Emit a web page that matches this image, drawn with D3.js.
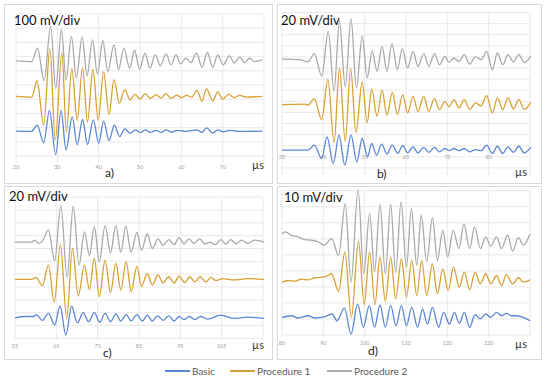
<!DOCTYPE html>
<html>
<head>
<meta charset="utf-8">
<script src="https://cdn.jsdelivr.net/npm/d3@7"></script>
<style>
  body { margin: 0; background: #fff; }
</style>
</head>
<body>
<div id="chart"></div>
<script>
// series names and colours
var seriesNames = ['Basic', 'Procedure 1', 'Procedure 2']
var seriesColors = ['#5a86d6', '#d9a032', '#a9a9a9']

// panel a) 100 mV/div  -  [time us, mV] at each peak / trough
var aBasic = [[20, 0], [23.8, -2], [25.1, 42], [26.7, -80], [28.1, 146], [29.6, -165], [30.9, 146], [32.1, -132], [33.6, 101], [34.8, -96], [36.1, 82], [37.3, -94], [38.7, 80], [40.0, -85], [41.2, 71], [42.5, -66], [43.8, 42], [45.1, -38], [46.3, 16], [47.6, -14], [48.9, 9], [50.1, -9], [51.3, 9], [52.5, -9], [53.9, 5], [55.1, -9], [56.3, 9], [57.5, -7], [58.9, 5], [61.1, -2], [63.8, 9], [65.0, -9], [66.1, 23], [67.6, -14], [68.8, 9], [70.1, -5], [71.6, 5], [74.0, -2], [79.6, 0]]
var aProc1 = [[20, 0], [23.8, -5], [25.1, 108], [26.7, -204], [28.2, 336], [29.5, -310], [31.1, 306], [32.2, -251], [33.5, 197], [34.8, -169], [36.1, 202], [37.3, -181], [38.6, 190], [39.9, -165], [41.2, 174], [42.5, -127], [43.7, 118], [45.0, -47], [46.3, 47], [47.6, -24], [48.8, 14], [50.0, -19], [51.3, 19], [52.5, -14], [53.9, 12], [55.1, -12], [56.3, 19], [57.5, -14], [58.9, 9], [60.0, -9], [61.3, 7], [62.5, -5], [63.8, 42], [65.0, -33], [66.1, 54], [67.6, -33], [68.8, 31], [70.0, -19], [71.4, 14], [72.8, -9], [74.1, 7], [75.6, -5], [79.6, 0]]
var aProc2 = [[20, 0], [23.8, -5], [25.2, 89], [26.8, -139], [28.4, 247], [29.6, -195], [31.0, 219], [32.1, -135], [33.4, 172], [34.6, -120], [36.0, 167], [37.2, -105], [38.5, 148], [39.7, -92], [41.0, 143], [42.2, -75], [43.7, 113], [44.8, -63], [46.1, 89], [47.5, -52], [48.7, 73], [49.9, -59], [51.2, 54], [52.4, -52], [53.7, 42], [54.9, -35], [56.3, 49], [57.5, -28], [58.7, 42], [59.8, -21], [61.1, 19], [62.3, -12], [63.7, 54], [65.0, -45], [66.3, 59], [67.6, -45], [68.8, 42], [70.1, -28], [71.6, 35], [72.8, -16], [74.1, 26], [75.3, -12], [76.5, 19], [77.8, -5], [79.6, 7]]

// panel b) 20 mV/div
var bBasic = [[35, 0], [41.3, 0], [42.8, 9], [44.6, -15], [45.9, 24], [47.4, -24], [48.8, 27], [50.2, -27], [51.7, 27], [53.1, -21], [54.4, 21], [55.7, -12], [56.7, 12], [57.9, -9], [59.1, 11], [60.4, -7], [61.7, 9], [63.0, -6], [64.2, 8], [65.4, -5], [66.7, 6], [67.9, -5], [69.3, 5], [70.5, -4], [71.9, 5], [73.1, -3], [74.4, 3], [75.5, -1], [76.6, 3], [77.8, -1], [79.1, 3], [80.4, -3], [81.8, 1], [83.2, -1], [84.5, 9], [85.9, -6], [87.1, 7], [88.4, -6], [89.7, 6], [91.0, -4], [92.3, 7], [93.6, -5], [95.2, 5]]
var bProc1 = [[35, -1], [40.5, 0], [41.3, -2], [42.8, 10], [44.6, -28], [46.1, 44], [47.6, -70], [48.9, 65], [50.3, -67], [51.6, 64], [52.9, -51], [54.4, 40], [55.6, -34], [56.7, 27], [58.0, -22], [59.2, 25], [60.4, -20], [61.7, 21], [62.9, -19], [64.2, 17], [65.4, -16], [66.7, 14], [67.9, -13], [69.3, 14], [70.5, -13], [71.9, 10], [73.1, -10], [74.4, 5], [75.4, -5], [76.6, 8], [77.8, -7], [79.1, 8], [80.4, -10], [81.8, 2], [83.2, -3], [84.5, 15], [85.9, -16], [87.1, 11], [88.4, -10], [89.7, 11], [91.0, -9], [92.3, 8], [93.6, -10], [95.2, 3]]
var bProc2 = [[35, 0], [39.3, -1], [41.3, -5], [42.8, 10], [44.6, -30], [46.2, 50], [47.6, -58], [48.9, 69], [50.3, -50], [51.7, 73], [53.0, -52], [54.4, 42], [55.6, -34], [56.8, 15], [58.0, -22], [59.2, 23], [60.4, -22], [61.6, 28], [62.9, -19], [64.1, 19], [65.4, -16], [66.7, 14], [67.9, -13], [69.3, 10], [70.5, -13], [71.9, 10], [73.1, -10], [74.4, 5], [75.4, -6], [76.6, 2], [77.8, -4], [79.1, 8], [80.4, -9], [81.8, 4], [83.2, -1], [84.5, 14], [85.9, -19], [87.1, 11], [88.4, -10], [89.7, 8], [91.0, -5], [92.3, 8], [93.6, -6], [95.2, 5]]

// panel c) 20 mV/div
var cBasic = [[55, -1], [57.4, 1], [59.5, 1], [60.1, 4], [61.6, -5], [63.1, 6], [64.6, -12], [65.9, 17], [67.3, -28], [68.7, 17], [70.1, -9], [71.5, 7], [72.8, -7], [74.2, 7], [75.5, -8], [76.8, 6], [78.1, -7], [79.4, 5], [80.6, -6], [81.9, 4], [83.1, -6], [84.5, 4], [85.8, -6], [87.0, 3], [88.2, -6], [89.5, 2], [90.9, -5], [92.2, 2], [93.5, -6], [94.7, 1], [95.9, -4], [97.2, 1], [98.5, -4], [99.9, 1], [101.6, -3], [104.8, 3], [108.0, -2], [111.3, 0], [115.3, -2]]
var cProc1 = [[55, 0], [59.0, 0], [60.1, 3], [61.6, -10], [63.1, 22], [64.5, -36], [66.0, 54], [67.5, -61], [68.9, 48], [70.3, -26], [71.8, 22], [73.0, -16], [74.2, 33], [75.4, -27], [76.8, 30], [78.1, -21], [79.4, 25], [80.6, -17], [81.9, 28], [83.1, -19], [84.5, 20], [85.6, -11], [87.0, 9], [88.2, -9], [89.6, 7], [90.8, -6], [92.2, 4], [93.5, -6], [94.7, 5], [96.1, -5], [97.3, 4], [98.5, -4], [99.8, 4], [101.2, -4], [102.4, 3], [103.6, -2], [105.2, 1], [108.0, -1], [111.3, 1], [115.3, 0]]
var cProc2 = [[55, 0], [59.0, 0], [59.9, 3], [60.7, -2], [61.7, 2], [63.1, 19], [64.6, -29], [66.1, 57], [67.6, -55], [69.1, 56], [70.5, -36], [71.8, 16], [73.0, -21], [74.2, 24], [75.4, -31], [76.8, 26], [78.1, -17], [79.4, 26], [80.6, -16], [81.8, 25], [83.1, -16], [84.5, 15], [85.6, -13], [87.0, 13], [88.2, -10], [89.6, 5], [90.8, -5], [92.2, 4], [93.5, -4], [94.7, 7], [95.9, -3], [97.1, 5], [98.3, -2], [99.7, 5], [100.9, -3], [102.2, 0], [103.4, -4], [104.8, 4], [106.0, -3], [107.2, 4], [108.5, -3], [109.8, 3], [111.3, -2], [112.9, 3], [115.3, 0]]

// panel d) 10 mV/div
var dBasic = [[80, 0], [82.3, 1.0], [83.9, -0.4], [86.3, 1.0], [88.0, -0.4], [90.4, 0.4], [92.1, 2.1], [93.3, -2.1], [95.1, 5.8], [96.7, -10.4], [98.3, 8.3], [99.7, -6.2], [101.1, 7.3], [102.4, -6.2], [103.7, 7.7], [105.0, -6.2], [106.3, 7.3], [107.6, -5.2], [108.9, 7.3], [110.1, -5.2], [111.4, 6.2], [112.8, -6.2], [114.0, 5.2], [115.2, -4.2], [116.4, 6.2], [117.9, -6.2], [119.1, 3.1], [120.5, -4.2], [121.7, 3.1], [122.9, -3.7], [124.1, 3.1], [125.4, -6.2], [126.7, 1.7], [128.0, -1.0], [129.3, 2.1], [130.5, 0], [131.9, 3.1], [133.1, 1.0], [134.3, 2.5], [135.5, 1.0], [136.7, 1.0], [138.4, 0], [140.0, -2.1]]
var dProc1 = [[80, -1.0], [81.5, 0], [83.1, -0.4], [84.7, 0.8], [86.3, 0.4], [88.0, 1.7], [90.4, 2.3], [92.0, 4.2], [93.7, -6.9], [95.2, 17.7], [96.8, -22.9], [98.5, 24.5], [99.9, -15], [101.2, 17.7], [102.5, -15], [103.7, 14.6], [105.0, -12.9], [106.3, 14.6], [107.5, -11.4], [108.9, 13.5], [110.1, -10.4], [111.4, 12.5], [112.6, -9.4], [113.8, 12.5], [115.0, -9.4], [116.4, 10.4], [117.6, -8.3], [118.9, 7.3], [120.2, -6.2], [121.5, 8.3], [122.9, -4.2], [124.1, 5.2], [125.4, -5.8], [126.7, 5.2], [128.0, -2.1], [129.3, 4.2], [130.5, -2.1], [131.9, 3.1], [133.1, -3.1], [134.3, 3.7], [135.8, -2.1], [137.2, 1.7], [138.4, -1.0], [140.0, 0.4]]
var dProc2 = [[80, 6.2], [80.8, 7.3], [82.3, 5.2], [83.9, 4.2], [85.5, 2.5], [87.2, 2.1], [88.8, 1.0], [90.2, -1.0], [92.0, 3.1], [93.7, -7.3], [95.3, 25], [96.7, -24], [98.4, 33.7], [99.8, -18.7], [101.2, 18.7], [102.4, -17.7], [103.7, 24.5], [105.0, -18.7], [106.3, 24.5], [107.5, -18.3], [108.8, 26], [110.1, -15], [111.3, 21.8], [112.6, -13.5], [113.7, 17.7], [115.0, -11.4], [116.4, 16.2], [117.6, -10.4], [118.9, 8.3], [120.1, -8.3], [121.4, 8.3], [122.8, -3.1], [124.0, 12.1], [125.4, -3.1], [126.6, 10.4], [128.0, -3.1], [129.3, 4.2], [130.5, -1.7], [131.9, 4.2], [133.1, -3.1], [134.6, 5.2], [135.8, -4.6], [137.2, 3.7], [138.4, -1.0], [140.0, 6.2]]

// tick labels and titles
var aTicks = [20, 30, 40, 50, 60, 70]
var bTicks = [35, 45, 55, 65, 75, 85]
var cTicks = [55, 65, 75, 85, 95, 105]
var dTicks = [80, 90, 100, 110, 120, 130]
var titles = ['100 mV/div', '20 mV/div', '20 mV/div', '10 mV/div']
var letters = ['a)', 'b)', 'c)', 'd)']

// layout of the four panels (pixels)
var panels = [
  { frame: [4, 4, 268, 179], x: [16, 264], t: [20, 80], ticks: aTicks, mv: [0, 1000], y: [156, 14], yBottom: 163, step: 100,
    offsets: [175, 420, 670], series: [aBasic, aProc1, aProc2], tickY: 169, unit: [252, 169], letter: [105, 177], title: [14, 25] },
  { frame: [277, 4, 264, 179], x: [282, 530], t: [35, 95], ticks: bTicks, mv: [0, 280], y: [167.9, 12.5], yBottom: 175, step: 20,
    offsets: [32, 115, 196], series: [bBasic, bProc1, bProc2], tickY: 159, unit: [515, 176], letter: [377, 178], title: [281, 25] },
  { frame: [4, 186, 268, 173], x: [15, 263], t: [55, 115], ticks: cTicks, mv: [0, 220], y: [338.3, 197.2], yBottom: 340, step: 20,
    offsets: [33, 92, 150], series: [cBasic, cProc1, cProc2], tickY: 348, unit: [252, 349], letter: [103, 357], title: [9, 201] },
  { frame: [277, 186, 264, 173], x: [282, 530], t: [80, 140], ticks: dTicks, mv: [0, 90], y: [335, 190.7], yBottom: 337, step: 10,
    offsets: [11, 34, 57], series: [dBasic, dProc1, dProc2], tickY: 345, unit: [515, 348], letter: [368, 355], title: [284, 202] }
]

var width = 550
var height = 382
var font = 'Lato, "Open Sans", sans-serif'

var svg = d3
  .select('#chart')
  .append('svg')
  .attr('width', width)
  .attr('height', height)
  .style('font-family', font)

svg.append('rect').attr('width', width).attr('height', height).attr('fill', '#fff')

panels.forEach((p, pi) => {
  var g = svg.append('g')

  // outer frame
  g.append('rect')
    .attr('x', p.frame[0] + 0.5)
    .attr('y', p.frame[1] + 0.5)
    .attr('width', p.frame[2])
    .attr('height', p.frame[3])
    .attr('fill', '#fff')
    .attr('stroke', '#d9d9d9')

  var x = d3.scaleLinear().domain(p.t).range(p.x)
  var y = d3.scaleLinear().domain(p.mv).range(p.y)

  // horizontal grid
  var yGrid = d3.range(p.mv[0], p.mv[1] + p.step / 2, p.step)
  g.selectAll('.hgrid')
    .data(yGrid)
    .enter()
    .append('line')
    .attr('x1', p.x[0])
    .attr('x2', p.x[1])
    .attr('y1', d => y(d))
    .attr('y2', d => y(d))
    .attr('stroke', '#e3e3e3')
    .attr('stroke-width', 0.8)

  // vertical grid
  var xGrid = p.ticks.concat([p.t[1]])
  g.selectAll('.vgrid')
    .data(xGrid)
    .enter()
    .append('line')
    .attr('x1', d => x(d))
    .attr('x2', d => x(d))
    .attr('y1', p.y[1])
    .attr('y2', p.yBottom)
    .attr('stroke', '#e3e3e3')
    .attr('stroke-width', 0.8)

  // tick labels
  g.selectAll('.tick')
    .data(p.ticks)
    .enter()
    .append('text')
    .attr('x', d => x(d))
    .attr('y', p.tickY)
    .attr('text-anchor', 'middle')
    .attr('font-size', 5.5)
    .attr('fill', '#a0a0a0')
    .text(d => d)

  // waveforms
  p.series.forEach((s, si) => {
    var line = d3
      .line()
      .x(d => x(d[0]))
      .y(d => y(d[1] + p.offsets[si]))
      .curve(d3.curveMonotoneX)
    g.append('path')
      .datum(s)
      .attr('d', line)
      .attr('fill', 'none')
      .attr('stroke', seriesColors[si])
      .attr('stroke-width', 1.3)
  })

  // texts
  g.append('text')
    .attr('x', p.title[0])
    .attr('y', p.title[1])
    .attr('font-size', 13)
    .attr('fill', '#111')
    .text(titles[pi])
  g.append('text')
    .attr('x', p.unit[0])
    .attr('y', p.unit[1])
    .attr('font-size', 11)
    .attr('fill', '#333')
    .text('µs')
  g.append('text')
    .attr('x', p.letter[0])
    .attr('y', p.letter[1])
    .attr('font-size', 12)
    .attr('fill', '#222')
    .text(letters[pi])
})

// legend
var legendX = [165, 230, 327]
var legend = svg
  .selectAll('.legend')
  .data(seriesNames)
  .enter()
  .append('g')
  .attr('transform', (d, i) => 'translate(' + legendX[i] + ',371)')
legend
  .append('line')
  .attr('x1', 0)
  .attr('x2', 25)
  .attr('stroke', (d, i) => seriesColors[i])
  .attr('stroke-width', 2)
legend
  .append('text')
  .attr('x', 27)
  .attr('y', 3.5)
  .attr('font-size', 10)
  .attr('fill', '#595959')
  .text(d => d)
</script>
</body>
</html>
